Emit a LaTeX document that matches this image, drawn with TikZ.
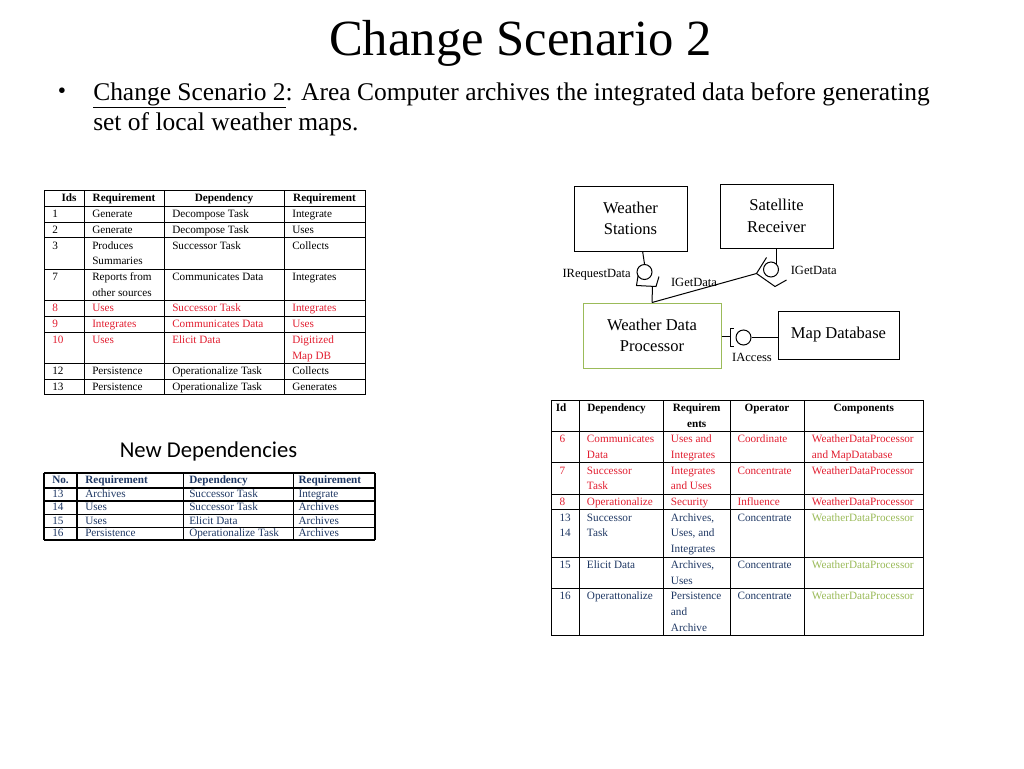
\documentclass[tikz,border=0pt]{standalone}
\usepackage{fontspec}
\setmainfont{Liberation Serif}
\newfontfamily\calibrifont{Carlito}
\definecolor{reqRed}{RGB}{226,30,48}
\definecolor{depNavy}{RGB}{31,56,100}
\definecolor{wdpGreen}{RGB}{155,187,89}

\begin{document}
\begin{tikzpicture}
[x=0.75pt,y=-0.75pt,
  cellText/.style={anchor=north west,inner sep=0pt,align=left,font=\fontsize{8.4}{11.8}\selectfont},%
  headText/.style={cellText,anchor=north,align=center,font=\fontsize{8.4}{11.8}\selectfont\bfseries},%
  rowText/.style={anchor=west,inner sep=0pt,font=\fontsize{8.4}{11.8}\selectfont},%
  gridLine/.style={line width=0.75pt},%
  boxDecorate/.style={draw,line width=0.75pt,align=center,inner sep=0pt,font=\fontsize{12.4}{16}\selectfont},%
  ifaceDecorate/.style={shape=circle,draw,line width=0.75pt,minimum size=11.25pt,inner sep=0pt},%
  lineDecorate/.style={line width=0.75pt},%
  labelText/.style={inner sep=0pt,font=\fontsize{9.4}{11}\selectfont}]
\useasboundingbox (0,0) rectangle (1024,768);
\fill[white] (0,0) rectangle (1024,768);
%% title and bullet
\node (title) at (520.5,55.7) [anchor=base,inner sep=0pt,font=\fontsize{38}{46}\selectfont] {Change Scenario 2};
\node (bullet) at (62,93) [font=\fontsize{17.6}{22.5}\selectfont] {•};
\node (intro) at (93,79) [anchor=north west,inner sep=0pt,align=left,font=\fontsize{19.1}{22.5}\selectfont]
  {\strut\underline{Change Scenario 2}: Area Computer archives the integrated data before generating\\set of local weather maps.};
%% first table
\foreach \rowy in {190,206.5,222.2,237.9,269.3,300.7,316.4,332.1,363.5,379.2,394.9}
  \draw[gridLine] (44,\rowy) -- (365,\rowy);
\foreach \colx in {44,84,164,284,365}
  \draw[gridLine] (\colx,190) -- (\colx,394.9);
\foreach \colx/\txt [count=\i] in {69/Ids,124/Requirement,224/Dependency,324.5/Requirement}
  \node (oneHead\i) at (\colx,190) [headText] {\strut\txt};
\foreach \rowy/\rowcol/\idtxt/\reqa/\dep/\reqb [count=\i] in {
  206.5/black/1/Generate/Decompose Task/Integrate,
  222.2/black/2/Generate/Decompose Task/Uses,
  237.9/black/3/{Produces\\Summaries}/Successor Task/Collects,
  269.3/black/7/{Reports from\\other sources}/Communicates Data/Integrates,
  300.7/reqRed/8/Uses/Successor Task/Integrates,
  316.4/reqRed/9/Integrates/Communicates Data/Uses,
  332.1/reqRed/10/Uses/Elicit Data/{Digitized\\Map DB},
  363.5/black/12/Persistence/Operationalize Task/Collects,
  379.2/black/13/Persistence/Operationalize Task/Generates}
{
  \node (oneId\i) at (52,\rowy) [cellText,text=\rowcol] {\strut\idtxt};
  \node (oneReqA\i) at (92,\rowy) [cellText,text=\rowcol] {\strut\reqa};
  \node (oneDep\i) at (172,\rowy) [cellText,text=\rowcol] {\strut\dep};
  \node (oneReqB\i) at (292,\rowy) [cellText,text=\rowcol] {\strut\reqb};
}
%% new dependencies
\node (newDeps) at (208.5,451.7) [font=\calibrifont\fontsize{17}{20}\selectfont] {New Dependencies};
\foreach \rowy in {473,488,501.2,514.4,527.4,540}
  \draw[line width=1.1pt] (44,\rowy) -- (375,\rowy);
\foreach \colx in {44,77,183.3,293.3,375}
  \draw[line width=1.1pt] (\colx,473) -- (\colx,540);
\foreach \colx/\txt [count=\i] in {52/No.,85/Requirement,189/Dependency,298.3/Requirement}
  \node (twoHead\i) at (\colx,480.5) [rowText,text=depNavy,font=\fontsize{8.4}{11.8}\selectfont\bfseries] {\strut\txt};
\foreach \rowy/\idtxt/\reqa/\dep/\reqb [count=\i] in {
  494.6/13/Archives/Successor Task/Integrate,
  507.8/14/Uses/Successor Task/Archives,
  520.9/15/Uses/Elicit Data/Archives,
  533.7/16/Persistence/Operationalize Task/Archives}
{
  \node (twoId\i) at (52,\rowy) [rowText,text=depNavy] {\strut\idtxt};
  \node (twoReqA\i) at (85,\rowy) [rowText,text=depNavy] {\strut\reqa};
  \node (twoDep\i) at (189,\rowy) [rowText,text=depNavy] {\strut\dep};
  \node (twoReqB\i) at (298.3,\rowy) [rowText,text=depNavy] {\strut\reqb};
}
%% components table
\foreach \rowy in {400,431.4,462.8,494.2,509.9,557,588.4,635.5}
  \draw[gridLine] (551.7,\rowy) -- (923.3,\rowy);
\foreach \colx in {551.7,579.3,663.3,730,804,923.3}
  \draw[gridLine] (\colx,400) -- (\colx,635.5);
\node (threeHead1) at (555.5,400.5) [cellText,font=\fontsize{8.4}{11.8}\selectfont\bfseries] {\strut Id};
\node (threeHead2) at (587,400.5) [cellText,font=\fontsize{8.4}{11.8}\selectfont\bfseries] {\strut Dependency};
\foreach \colx/\txt [count=\i from 3] in {696.7/{Requirem\\ents},767/Operator,863.7/Components}
  \node (threeHead\i) at (\colx,400.5) [headText] {\strut\txt};
\foreach \rowy/\rowcol/\idtxt/\dep/\req/\oper/\comp/\compcol [count=\i] in {
  431.4/reqRed/6/{Communicates\\Data}/{Uses and\\Integrates}/Coordinate/{WeatherDataProcessor\\and MapDatabase}/reqRed,
  462.8/reqRed/7/{Successor\\Task}/{Integrates\\and Uses}/Concentrate/WeatherDataProcessor/reqRed,
  494.2/reqRed/8/Operationalize/Security/Influence/WeatherDataProcessor/reqRed,
  509.9/depNavy/{13\\14}/{Successor\\Task}/{Archives,\\Uses, and\\Integrates}/Concentrate/WeatherDataProcessor/wdpGreen,
  557/depNavy/15/Elicit Data/{Archives,\\Uses}/Concentrate/WeatherDataProcessor/wdpGreen,
  588.4/depNavy/16/Operattonalize/{Persistence\\and\\Archive}/Concentrate/WeatherDataProcessor/wdpGreen}
{
  \node (threeId\i) at (559.3,\rowy) [cellText,text=\rowcol] {\strut\idtxt};
  \node (threeDep\i) at (586.7,\rowy) [cellText,text=\rowcol] {\strut\dep};
  \node (threeReq\i) at (670.7,\rowy) [cellText,text=\rowcol] {\strut\req};
  \node (threeOp\i) at (737.3,\rowy) [cellText,text=\rowcol] {\strut\oper};
  \node (threeComp\i) at (811.7,\rowy) [cellText,text=\compcol] {\strut\comp};
}
%% components and interfaces
\node (ws) at (630.5,218.5) [boxDecorate,minimum width=84.75pt,minimum height=48.75pt] {Weather\\Stations};
\node (sr) at (776.5,216) [boxDecorate,minimum width=84.75pt,minimum height=48pt] {Satellite\\Receiver};
\node (wdp) at (652,335.5) [boxDecorate,draw=wdpGreen,minimum width=103.5pt,minimum height=48.75pt] {Weather Data\\Processor};
\node (md) at (838.5,335) [boxDecorate,minimum width=90.75pt,minimum height=36pt] {Map Database};
\node (iRequest) at (644.5,272) [ifaceDecorate] {};
\node (iGet) at (771,269.5) [ifaceDecorate] {};
\node (iAccess) at (743.5,337.5) [ifaceDecorate] {};
\draw[lineDecorate] (638,276) -- (636.5,285.5) -- (656,286.5) -- (659,276.5);
\draw[lineDecorate] (766.5,257.5) -- (756.5,273.5) -- (775,286.5) -- (786.5,280);
\draw[lineDecorate] (733.5,328.5) -- (730,328.5) -- (730,346.5) -- (733.5,346.5);
\coordinate (cupRequest) at (652.5,286.3);
\coordinate (cupGet) at (756.5,273.5);
\coordinate (cupAccess) at (730,336.5);
%% connectors
\draw[lineDecorate] (iRequest.north) -- ([xshift=-1.4pt]iRequest |- ws.south);
\draw[lineDecorate] (cupRequest) -- (wdp.north);
\draw[lineDecorate] (cupGet) -- (wdp.north);
\draw[lineDecorate] (iGet.45) -- (iGet.45 |- sr.south);
\draw[lineDecorate] (cupAccess -| wdp.east) -- (cupAccess);
\draw[lineDecorate] (iAccess.east) -- (iAccess -| md.west);
%% interface labels
\node (lblRequest) at (631,275) [labelText,anchor=east] {IRequestData};
\node (lblGetA) at (694,282) [labelText] {IGetData};
\node (lblGetB) at (790.5,270) [labelText,anchor=west] {IGetData};
\node (lblAccess) at (752,357) [labelText] {IAccess};
\end{tikzpicture}
\end{document}
